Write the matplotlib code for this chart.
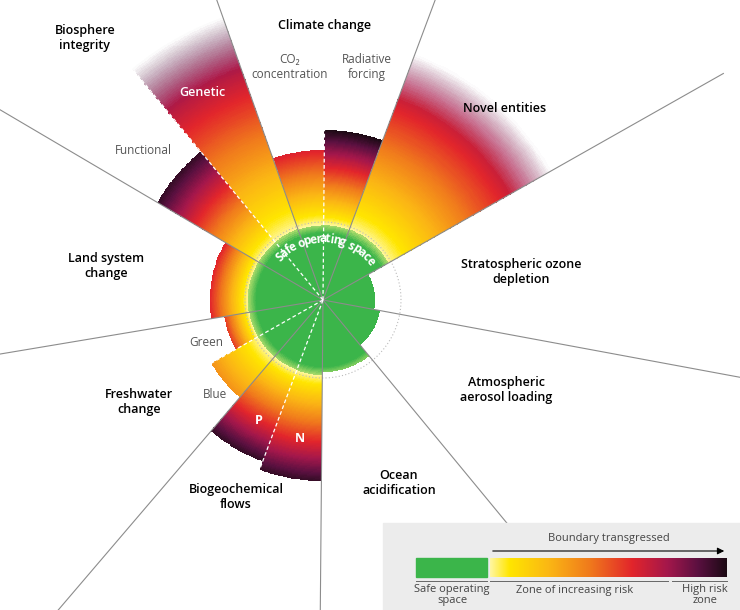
import numpy as np
import matplotlib.pyplot as plt
from matplotlib.colors import LinearSegmentedColormap, to_rgba
from matplotlib.patches import Rectangle

plt.rcParams['font.family'] = ['Open Sans', 'DejaVu Sans']

# sub-wedges, counter-clockwise from the climate/novel divider
wedge_names = ['Radiative forcing', 'CO2', 'Genetic', 'Functional', 'Land',
               'Green', 'Blue', 'P', 'N', 'Ocean', 'Aerosol', 'Ozone', 'Novel']
wedge_start = [69.5, 89.5, 109.5, 129.5, 149.5, 189.5, 209.5, 229.5, 249.5,
               269.5, 309.5, 349.5, 389.5]
wedge_end = [89.5, 109.5, 129.5, 149.5, 189.5, 209.5, 229.5, 249.5, 269.5,
             309.5, 349.5, 389.5, 429.5]
wedge_radius = [170, 150, 300, 192, 113, 100, 128, 172, 181, 72, 58, 52, 262]
tip_level = [1.0, 0.62, 0.95, 0.95, 0.6, 0.55, 0.35, 0.95, 0.95, 0, 0, 0, 0.88]
fades = [False, False, True, False, False, False, False, False, False,
         False, False, False, True]
dividers = [69.5, 109.5, 149.5, 189.5, 229.5, 269.5, 309.5, 349.5, 389.5]
sub_dividers = [89.5, 129.5, 209.5, 249.5]
SAFE = 75

risk = LinearSegmentedColormap.from_list('risk', [
    (0.0, '#fff6a0'), (0.08, '#ffe600'), (0.25, '#fbb614'), (0.42, '#f07a1c'),
    (0.6, '#e2252b'), (0.75, '#a4174b'), (0.88, '#5a1040'), (1.0, '#1c0a14')])
green = np.array(to_rgba('#3bb54a'))
pale = np.array(to_rgba('#a8da6a'))

fig = plt.figure(figsize=(7.4, 6.1), dpi=100)
ax = fig.add_axes([23 / 740, 10 / 610, 600 / 740, 600 / 610], projection='polar')
ax.set_ylim(0, 300)
ax.axis('off')

for t0, t1, rt, lvl, fd in zip(wedge_start, wedge_end, wedge_radius, tip_level, fades):
    th = np.radians(np.linspace(t0, t1, 30))
    r = np.linspace(0, rt, 160)
    rc = 0.5 * (r[:-1] + r[1:])
    cols = np.zeros((len(rc), 4))
    for i, rr in enumerate(rc):
        if rr < SAFE:
            k = np.clip((rr - 67) / (SAFE - 67), 0, 1)
            cols[i] = green * (1 - k) + pale * k
        else:
            v = lvl * (rr - SAFE) / max(rt - SAFE, 1)
            cols[i] = risk(v)
            if fd and rr > rt * 0.82:
                a = max(0, 1 - (rr - rt * 0.82) / (rt * 0.18))
                # blend into white instead of using alpha (avoids seams)
                cols[i, :3] = cols[i, :3] * a + (1 - a)
    C = np.repeat(cols[:, None, :], len(th) - 1, axis=1)
    T, R = np.meshgrid(th, r)
    ax.pcolormesh(T, R, C, shading='flat', edgecolors='none', linewidth=0,
                  antialiased=False, rasterized=True)

# dotted boundary circle
tt = np.linspace(0, 2 * np.pi, 400)
ax.plot(tt, np.full_like(tt, 78), ls=(0, (1, 2)), color='#bbbbbb', lw=0.8)

for d in dividers:
    ax.plot([np.radians(d)] * 2, [0, 460], color='#8c8c8c', lw=0.8, clip_on=False)
for d, rt in zip(sub_dividers, [170, 300, 128, 181]):
    ax.plot([np.radians(d)] * 2, [0, rt], color='white', lw=0.9, ls=(0, (3, 2)))

# curved "Safe operating space"
txt = 'Safe operating space'
widths = np.array([0.55 if c in 'iftr ' else 1.0 for c in txt])
pos = np.cumsum(widths) - widths / 2
angs = 138 - (138 - 36) * pos / widths.sum()
for ch, a in zip(txt, angs):
    ax.text(np.radians(a), 61, ch, rotation=a - 90, ha='center', va='center',
            rotation_mode='anchor', color='white', fontsize=8.5, fontweight='bold')


def label(x, y, s, color='black', weight='semibold', size=9):
    fig.text(x / 740, 1 - y / 610, s, ha='center', va='center', color=color,
             fontsize=size, fontweight=weight, linespacing=1.2)


label(85, 38, 'Biosphere\nintegrity')
label(325, 25, 'Climate change')
label(290, 67, 'CO₂\nconcentration', '#555555', 'normal', 8.5)
label(367, 67, 'Radiative\nforcing', '#555555', 'normal', 8.5)
label(202, 93, 'Genetic', 'white', 'semibold', 9)
label(505, 108, 'Novel entities')
label(143, 150, 'Functional', '#555555', 'normal', 8.5)
label(106, 266, 'Land system\nchange')
label(521, 272, 'Stratospheric ozone\ndepletion')
label(206, 343, 'Green', '#555555', 'normal', 8.5)
label(215, 394, 'Blue', '#555555', 'normal', 8.5)
label(139, 402, 'Freshwater\nchange')
label(506, 390, 'Atmospheric\naerosol loading')
label(259, 421, 'P', 'white', 'bold', 9)
label(300, 439, 'N', 'white', 'bold', 9)
label(399, 483, 'Ocean\nacidification')
label(236, 497, 'Biogeochemical\nflows')

# legend
lax2 = fig.add_axes([0, 0, 1, 1])
lax2.set_xlim(0, 740)
lax2.set_ylim(610, 0)
lax2.axis('off')
lax2.add_patch(Rectangle((383, 523), 360, 90, color='#ececec', zorder=0))
lax2.add_patch(Rectangle((416, 558), 71, 19, color='#3bb54a', zorder=1))
grad = np.linspace(0, 1, 256)[None, :]
lax2.imshow(grad, cmap=risk, extent=(490, 727, 577, 558), aspect='auto', zorder=1)
lax2.annotate('', xy=(727, 551), xytext=(490, 551),
              arrowprops=dict(arrowstyle='-|>', color='black', lw=0.8))
lax2.text(609, 539, 'Boundary transgressed', ha='center', va='center',
          fontsize=8, color='#444444')
lax2.plot([416, 487], [581, 581], color='#666666', lw=0.7)
lax2.plot([490, 668], [581, 581], color='#666666', lw=0.7)
lax2.plot([672, 727], [581, 581], color='#666666', lw=0.7)
lax2.text(452, 595, 'Safe operating\nspace', ha='center', va='center', fontsize=8,
          color='#444444', linespacing=1.1)
lax2.text(575, 590, 'Zone of increasing risk', ha='center', va='center', fontsize=8,
          color='#444444')
lax2.text(705, 595, 'High risk\nzone', ha='center', va='center', fontsize=8,
          color='#444444', linespacing=1.1)
lax2.set_xlim(0, 740)
lax2.set_ylim(610, 0)

fig.savefig('out.png', dpi=100)
